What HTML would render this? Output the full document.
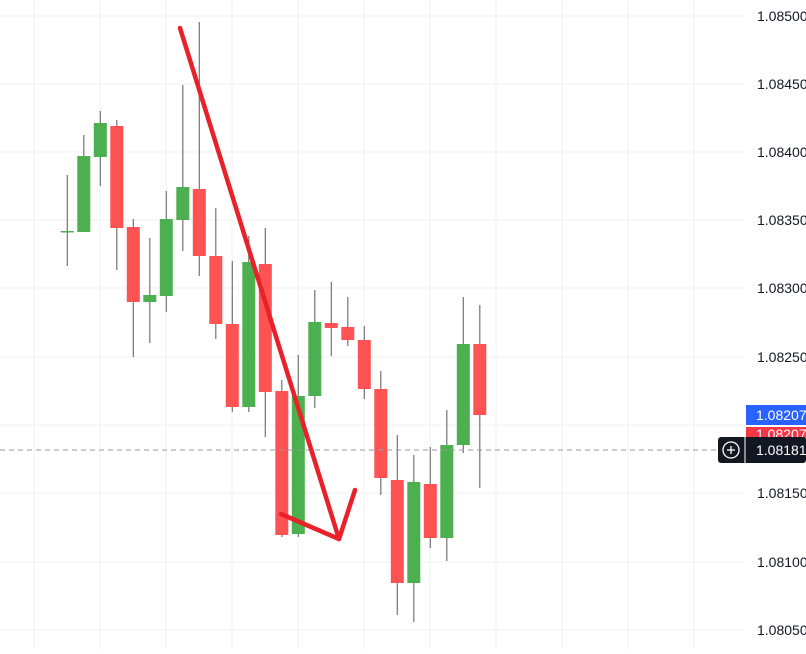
<!DOCTYPE html>
<html><head><style>
body{margin:0;background:#fff;width:806px;height:649px;overflow:hidden;font-family:"Liberation Sans",sans-serif}
</style></head><body>
<svg width="806" height="649" xmlns="http://www.w3.org/2000/svg">
<g stroke="#f0f1f3" stroke-width="1">
<line x1="34" y1="0" x2="34" y2="649"/><line x1="100" y1="0" x2="100" y2="649"/><line x1="166" y1="0" x2="166" y2="649"/><line x1="232" y1="0" x2="232" y2="649"/><line x1="298" y1="0" x2="298" y2="649"/><line x1="364" y1="0" x2="364" y2="649"/><line x1="430" y1="0" x2="430" y2="649"/><line x1="496" y1="0" x2="496" y2="649"/><line x1="562" y1="0" x2="562" y2="649"/><line x1="628" y1="0" x2="628" y2="649"/><line x1="694" y1="0" x2="694" y2="649"/>
<line x1="0" y1="16" x2="745" y2="16"/><line x1="0" y1="84" x2="745" y2="84"/><line x1="0" y1="152" x2="745" y2="152"/><line x1="0" y1="220" x2="745" y2="220"/><line x1="0" y1="288" x2="745" y2="288"/><line x1="0" y1="357" x2="745" y2="357"/><line x1="0" y1="425" x2="745" y2="425"/><line x1="0" y1="493" x2="745" y2="493"/><line x1="0" y1="562" x2="745" y2="562"/><line x1="0" y1="630" x2="745" y2="630"/>
</g>
<g id="c"></g>
<line x1="0" y1="450" x2="720" y2="450" stroke="#9598a1" stroke-dasharray="5,4"/>
<g stroke="#e8212a" stroke-width="4.5" fill="none" stroke-linecap="round" stroke-linejoin="round">
<line x1="180" y1="28" x2="339" y2="539"/>
<polyline points="281,514 339,539 355,490"/>
</g>
<g font-size="14" fill="#131722">
<text x="757" y="21">1.08500</text><text x="757" y="89">1.08450</text><text x="757" y="157">1.08400</text><text x="757" y="225">1.08350</text><text x="757" y="293">1.08300</text><text x="757" y="362">1.08250</text><text x="757" y="498">1.08150</text><text x="757" y="567">1.08100</text><text x="757" y="635">1.08050</text>
</g>
<rect x="746" y="427" width="60" height="14" fill="#f23645"/>
<text x="756" y="439" font-size="14" fill="#fff">1.08207</text>
<rect x="746" y="405" width="60" height="20" fill="#2962ff"/>
<text x="756" y="420" font-size="14" fill="#fff">1.08207</text>
<rect x="718" y="437" width="88" height="26" rx="3" fill="#131722"/>
<line x1="745" y1="437" x2="745" y2="463" stroke="#fff"/>
<circle cx="731" cy="450" r="8" fill="none" stroke="#fff" stroke-width="1.3"/>
<line x1="727" y1="450" x2="735" y2="450" stroke="#fff" stroke-width="1.3"/><line x1="731" y1="446" x2="731" y2="454" stroke="#fff" stroke-width="1.3"/>
<text x="756" y="455" font-size="14" fill="#fff">1.08181</text>
</svg>
<script>
var d=[[231,231,175,266,'g'],[156,232,135,232,'g'],[123,157,111,186,'g'],[126,228,120,270,'r'],[227,302,219,357,'r'],[295,302,238,343,'g'],[219,296,191,312,'g'],[187,220,85,251,'g'],[189,256,22,276,'r'],[256,324,208,339,'r'],[324,407,261,412,'r'],[262,407,236,412,'g'],[264,392,228,437,'r'],[391,535,380,537,'r'],[396,534,355,537,'g'],[322,396,290,408,'g'],[323,328,282,356,'r'],[327,340,297,346,'r'],[340,389,326,399,'r'],[389,478,371,495,'r'],[480,583,435,615,'r'],[482,583,455,622,'g'],[484,538,447,548,'r'],[445,538,410,561,'g'],[344,445,297,453,'g'],[344,415,305,488,'r']];
var s='';d.forEach(function(c,i){var x=67.3+16.5*i;var col=c[4]=='g'?'#4caf50':'#ff5252';
s+='<line x1="'+x+'" y1="'+c[2]+'" x2="'+x+'" y2="'+c[3]+'" stroke="#737375" stroke-width="1.2"/>';
var h=Math.max(c[1]-c[0],1.5);s+='<rect x="'+(x-6.5)+'" y="'+c[0]+'" width="13" height="'+h+'" fill="'+col+'"/>';});
document.getElementById('c').innerHTML=s;
</script>
</body></html>
